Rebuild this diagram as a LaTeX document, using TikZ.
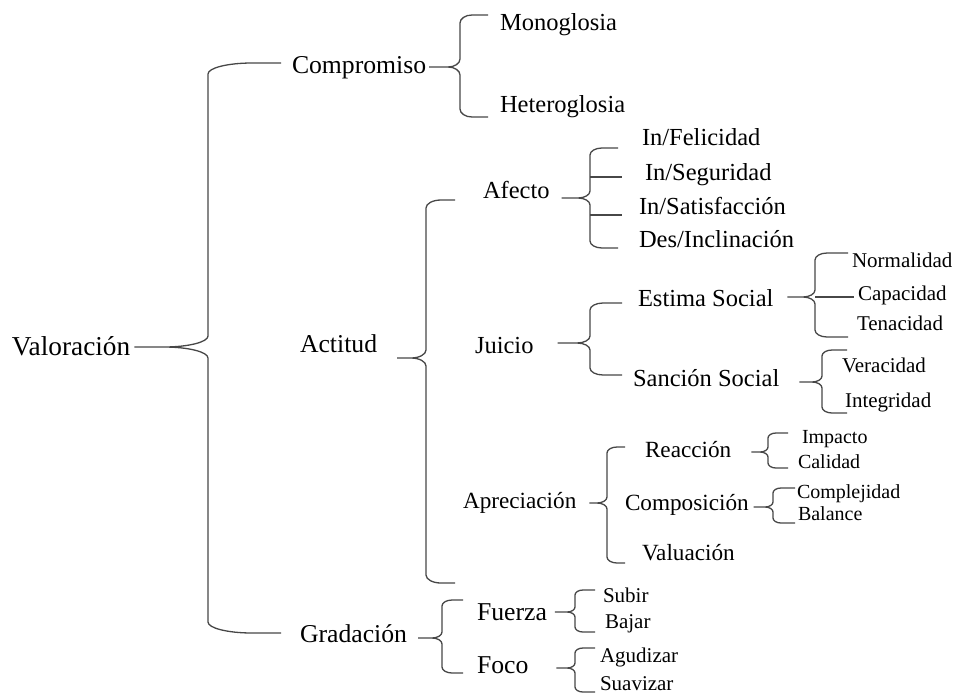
\documentclass[tikz,border=0pt]{standalone}
\usepackage{fontspec}
\setmainfont{Liberation Serif}
\usetikzlibrary{calc}

\tikzset{
  lbl/.style={anchor=base west, inner sep=0pt, outer sep=0pt},
  troot/.style={lbl, font=\fontsize{27.3}{30}\selectfont},
  ta/.style={lbl, font=\fontsize{25.7}{28}\selectfont},
  tb/.style={lbl, font=\fontsize{24.5}{27}\selectfont},
  tc/.style={lbl, font=\fontsize{23.2}{26}\selectfont},
  td/.style={lbl, font=\fontsize{21}{23}\selectfont},
  te/.style={lbl, font=\fontsize{20}{22}\selectfont},
  brcline/.style={draw=black!72, line width=1.3pt, line join=round}
}

% Curly bracket opening to the right.
% #1 parent node, #2 gap after parent, #3 tip y, #4 spine x,
% #5 top arm y, #6 bottom arm y, #7 arm end x, #8 curve width, #9 curve height
\newcommand{\bracket}[9]{%
  \draw[brcline] let \p1 = ($(#1.east)+(#2pt,0pt)$) in
    (\x1,-#3pt) -- ({#4pt-#8pt},-#3pt)
    .. controls ({#4pt-0.448*#8pt},-#3pt) and (#4pt,{-#3pt+0.448*#9pt}) .. (#4pt,{-#3pt+#9pt})
    -- (#4pt,{-#5pt-#9pt})
    .. controls (#4pt,{-#5pt-0.448*#9pt}) and ({#4pt+0.448*#8pt},-#5pt) .. ({#4pt+#8pt},-#5pt)
    -- (#7pt,-#5pt)
    ({#4pt-#8pt},-#3pt)
    .. controls ({#4pt-0.448*#8pt},-#3pt) and (#4pt,{-#3pt-0.448*#9pt}) .. (#4pt,{-#3pt-#9pt})
    -- (#4pt,{-#6pt+#9pt})
    .. controls (#4pt,{-#6pt+0.448*#9pt}) and ({#4pt+0.448*#8pt},-#6pt) .. ({#4pt+#8pt},-#6pt)
    -- (#7pt,-#6pt);%
}

\begin{document}
\begin{tikzpicture}[x=1pt,y=-1pt]
\useasboundingbox (0,0) rectangle (958,694);

% root
\node[troot] (val) at (12,355) {Valoración};

% Compromiso
\node[ta] (comp) at (292,73) {Compromiso};
\node[tb] (mono) at (500,30) {Monoglosia};
\node[tb] (hete) at (500,112) {Heteroglosia};

% Actitud
\node[ta] (act) at (300,352) {Actitud};
\node[tb] (afe) at (483,198) {Afecto};
\node[tb] (feli) at (642,145) {In/Felicidad};
\node[tb] (segu) at (645,180) {In/Seguridad};
\node[tb] (sati) at (639,214) {In/Satisfacción};
\node[tb] (incl) at (639,247) {Des/Inclinación};

\node[tb] (jui) at (475,353) {Juicio};
\node[tb] (esti) at (638,306) {Estima Social};
\node[td] (norm) at (852,267) {Normalidad};
\node[td] (capa) at (858,300) {Capacidad};
\node[td] (tena) at (857,330) {Tenacidad};
\node[tb] (sanc) at (633,386) {Sanción Social};
\node[td] (vera) at (842,372) {Veracidad};
\node[td] (inte) at (845,407) {Integridad};

\node[tc] (apre) at (463,508) {Apreciación};
\node[tc] (reac) at (645,457) {Reacción};
\node[te] (impa) at (802,443) {Impacto};
\node[te] (cali) at (798,468) {Calidad};
\node[tc] (compo) at (625,510) {Composición};
\node[te] (comple) at (797,498) {Complejidad};
\node[te] (bala) at (798,520) {Balance};
\node[tc] (valu) at (642,560) {Valuación};

% Gradación
\node[ta] (grad) at (300,642) {Gradación};
\node[ta] (fuer) at (477,620) {Fuerza};
\node[td] (subi) at (603,602) {Subir};
\node[td] (baja) at (605,628) {Bajar};
\node[ta] (foco) at (477,673) {Foco};
\node[td] (agud) at (600,662) {Agudizar};
\node[td] (suav) at (600,690) {Suavizar};

% brackets
\bracket{val}{4}{347}{208}{63}{633}{281}{44}{11}
\bracket{comp}{3}{67}{460}{15}{117}{488}{12}{8}
\bracket{act}{20}{358}{426}{200}{583}{455}{15}{8}
\bracket{afe}{12}{198}{590}{148}{248}{618}{12}{7}
\bracket{jui}{24}{343}{590}{303}{375}{622}{13}{7}
\bracket{esti}{14}{297}{815}{253}{337}{848}{12}{7}
\bracket{sanc}{20}{382}{822}{350}{413}{847}{10}{6}
\bracket{apre}{13}{503}{607}{447}{563}{625}{10}{6}
\bracket{reac}{20}{452}{768}{433}{468}{788}{8}{5}
\bracket{compo}{5}{507}{773}{488}{523}{795}{8}{5}
\bracket{grad}{11}{638}{442}{600}{673}{463}{10}{6}
\bracket{fuer}{8}{612}{575}{590}{632}{595}{8}{5}
\bracket{foco}{28}{668}{575}{648}{692}{595}{8}{5}

% middle branches
\draw[brcline] (590,177) -- (622,177);
\draw[brcline] (590,215) -- (622,215);
\draw[brcline] (815,297) -- (854,297);
\end{tikzpicture}
\end{document}
